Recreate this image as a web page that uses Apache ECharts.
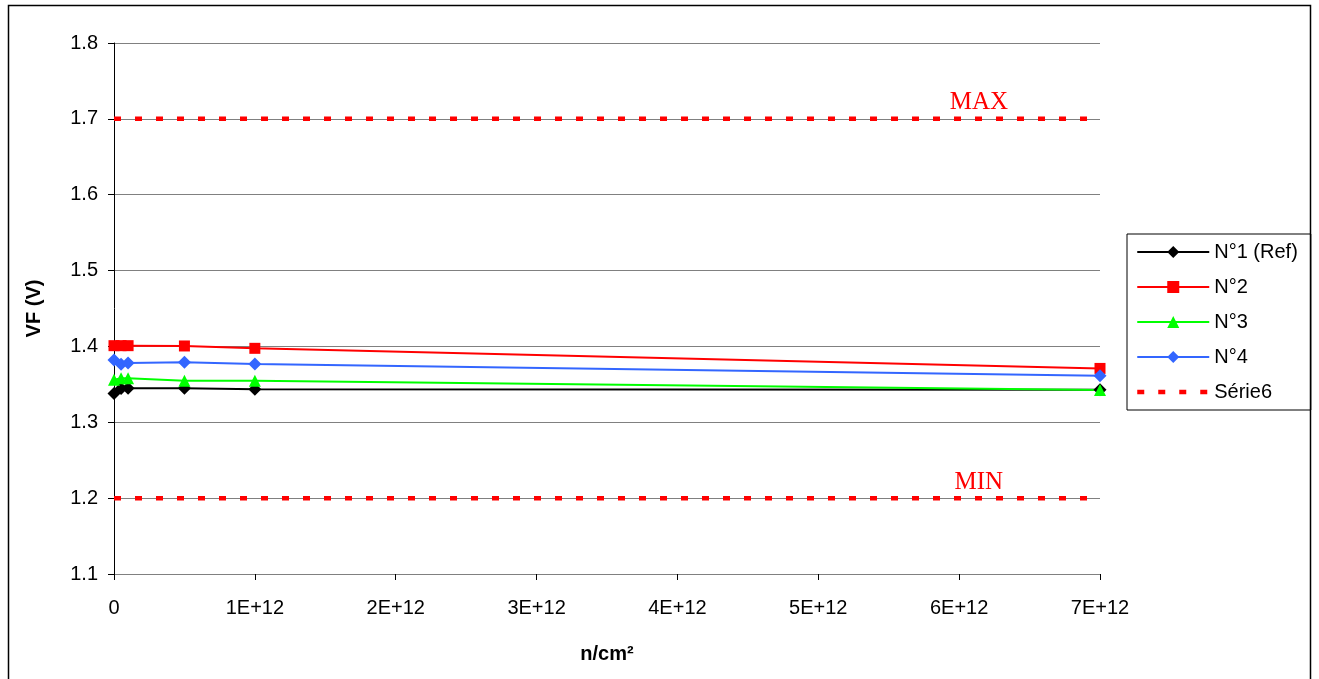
<!DOCTYPE html>
<html>
<head>
<meta charset="utf-8">
<script src="https://cdn.jsdelivr.net/npm/echarts@6/dist/echarts.min.js"></script>
<style>
  html, body { margin: 0; padding: 0; background: #fff; }
  #chart { width: 1319px; height: 679px; }
</style>
</head>
<body>
<div id="chart"></div>
<script>
  // fluence points (n/cm²)
  const fluence = [0, 5e10, 1e11, 5e11, 1e12, 7e12];
  const n1Ref = [1.338, 1.3445, 1.345, 1.3448, 1.3435, 1.343];
  const n2 = [1.401, 1.401, 1.401, 1.4006, 1.3975, 1.371];
  const n3 = [1.356, 1.358, 1.358, 1.3548, 1.3548, 1.3425];
  const n4 = [1.382, 1.3765, 1.378, 1.379, 1.377, 1.3614];
  // limits (Série6)
  const limitX = [0, 7e12];
  const maxLimit = [1.7, 1.7];
  const minLimit = [1.2, 1.2];

  const pairs = (xs, ys) => xs.map((x, i) => [x, ys[i]]);
  const chart = echarts.init(document.getElementById('chart'));

  const font = 'Liberation Sans, Arial, sans-serif';
  const dash = [7, 14];

  const mkLine = (name, data, color, symbol, size) => ({
    name: name,
    type: 'line',
    data: pairs(fluence, data),
    symbol: symbol,
    symbolSize: size,
    itemStyle: { color: color },
    lineStyle: { color: color, width: 2 },
    z: 3
  });

  const mkLimit = (data, text) => ({
    name: 'Série6',
    type: 'line',
    data: pairs(limitX, data),
    symbol: 'none',
    itemStyle: { color: '#ff0000' },
    lineStyle: { color: '#ff0000', width: 4.5, type: dash, cap: 'butt' },
    markPoint: {
      symbol: 'circle',
      symbolSize: 1,
      silent: true,
      itemStyle: { color: 'rgba(0,0,0,0)' },
      label: {
        show: true,
        position: 'inside',
        formatter: text,
        color: '#ff0000',
        fontFamily: 'Liberation Serif, Times New Roman, serif',
        fontSize: 25,
        offset: [0, -16]
      },
      data: [{ coord: [6.14e12, data[0]] }]
    },
    z: 2
  });

  chart.setOption({
    animation: false,
    textStyle: { fontFamily: font },
    graphic: [{
      type: 'rect',
      shape: { x: 8.5, y: 5.5, width: 1302, height: 700 },
      style: { fill: 'none', stroke: '#000', lineWidth: 1.5 },
      z: 0
    }],
    grid: { left: 114, right: 219, top: 43, bottom: 105 },
    legend: {
      orient: 'vertical',
      left: 1127,
      top: 234,
      padding: [8, 13, 8, 8],
      borderColor: '#000',
      borderWidth: 1,
      itemWidth: 72,
      itemHeight: 15,
      itemGap: 15,
      textStyle: { fontSize: 20, color: '#000', fontFamily: font },
      data: [
        'N°1 (Ref)', 'N°2', 'N°3', 'N°4',
        {
          name: 'Série6',
          itemStyle: { opacity: 0 },
          lineStyle: { width: 4.5, type: dash, color: '#ff0000' }
        }
      ]
    },
    xAxis: {
      type: 'value',
      min: 0,
      max: 7e12,
      interval: 1e12,
      name: 'n/cm²',
      nameLocation: 'middle',
      nameGap: 70,
      nameTextStyle: { fontSize: 20, fontWeight: 'bold', color: '#000' },
      axisLine: { lineStyle: { color: '#808080', width: 1 } },
      axisTick: { show: true, length: 6, lineStyle: { color: '#000' } },
      axisLabel: {
        fontSize: 20,
        color: '#000',
        margin: 24,
        formatter: v => v === 0 ? '0' : (v / 1e12) + 'E+12'
      },
      splitLine: { show: false }
    },
    yAxis: {
      type: 'value',
      min: 1.1,
      max: 1.8,
      interval: 0.1,
      name: 'VF (V)',
      nameLocation: 'middle',
      nameGap: 70,
      nameTextStyle: { fontSize: 20, fontWeight: 'bold', color: '#000' },
      axisLine: { show: true, lineStyle: { color: '#000', width: 1 } },
      axisTick: { show: true, length: 6, lineStyle: { color: '#000' } },
      axisLabel: {
        fontSize: 20,
        color: '#000',
        margin: 16,
        formatter: v => v.toFixed(1)
      },
      splitLine: { show: true, lineStyle: { color: '#808080', width: 1 } }
    },
    series: [
      mkLine('N°1 (Ref)', n1Ref, '#000000', 'diamond', 13),
      mkLine('N°2', n2, '#ff0000', 'rect', 11),
      mkLine('N°3', n3, '#00ff00', 'triangle', 12),
      mkLine('N°4', n4, '#3366ff', 'diamond', 13),
      mkLimit(maxLimit, 'MAX'),
      mkLimit(minLimit, 'MIN')
    ]
  });
</script>
</body>
</html>
